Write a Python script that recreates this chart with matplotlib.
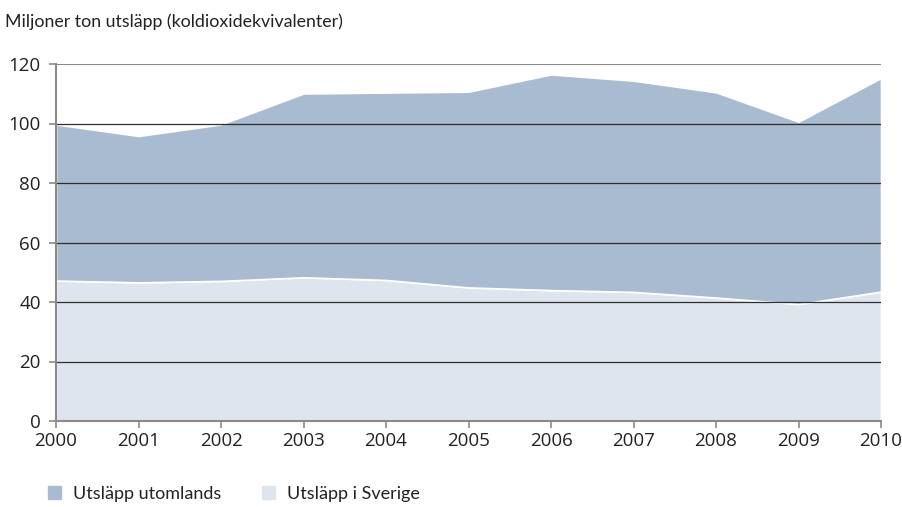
import matplotlib
matplotlib.use("Agg")
import matplotlib.pyplot as plt
import matplotlib.patches as mpatches

# ── Data ──────────────────────────────────────────────────────────────────────
years = [2000, 2001, 2002, 2003, 2004, 2005, 2006, 2007, 2008, 2009, 2010]
sverige = [47.2, 46.6, 47.1, 48.3, 47.4, 44.9, 44.0, 43.4, 41.5, 39.3, 43.5]
utomlands = [52.5, 49.2, 52.6, 61.8, 63.0, 65.8, 72.5, 71.0, 69.0, 61.3, 71.8]

yticks = [0, 20, 40, 60, 80, 100, 120]

C_UTOM = "#a9bbd0"
C_SVE = "#dfe5ee"
C_AXIS = "#8a8a8a"

plt.rcParams["font.family"] = ["Lato", "DejaVu Sans"]

fig = plt.figure(figsize=(9.03, 5.07), dpi=100, facecolor="white")
ax = fig.add_axes([56 / 903, 1 - 421 / 507, 825 / 903, 357 / 507])

ax.stackplot(years, sverige, utomlands, colors=[C_SVE, C_UTOM],
             edgecolor="white", linewidth=1.2, zorder=1)

# horisontella linjer
for v in yticks[1:-1]:
    ax.axhline(v, color="#2e2e2e", lw=0.9, zorder=3)
ax.axhline(120, color=C_AXIS, lw=1.5, zorder=3)

ax.set_xlim(2000, 2010)
ax.set_ylim(0, 120)
ax.set_xticks(years)
ax.set_yticks(yticks)
ax.tick_params(axis="both", colors=C_AXIS, labelcolor="#222222",
               labelsize=13.5, length=5, width=1.2,
               labelfontfamily="Open Sans")
ax.tick_params(axis="x", pad=3)
ax.tick_params(axis="y", pad=6)

for s in ["top", "right"]:
    ax.spines[s].set_visible(False)
for s in ["left", "bottom"]:
    ax.spines[s].set_color(C_AXIS)
    ax.spines[s].set_linewidth(1.5)
    ax.spines[s].set_zorder(4)

fig.text(5 / 903, 1 - 22 / 507, "Miljoner ton utsläpp (koldioxidekvivalenter)",
         fontsize=12.8, color="#222222", va="center", ha="left")

handles = [mpatches.Patch(color=C_UTOM, label="Utsläpp utomlands"),
           mpatches.Patch(color=C_SVE, label="Utsläpp i Sverige")]
fig.legend(handles=handles, loc="center left", ncol=2, frameon=False,
           bbox_to_anchor=(32 / 903, 1 - 494 / 507), fontsize=13,
           handlelength=0.7, handleheight=0.7, handletextpad=0.65,
           columnspacing=2.3, labelcolor="#222222")

fig.savefig("out.png", dpi=100)
plt.close(fig)
